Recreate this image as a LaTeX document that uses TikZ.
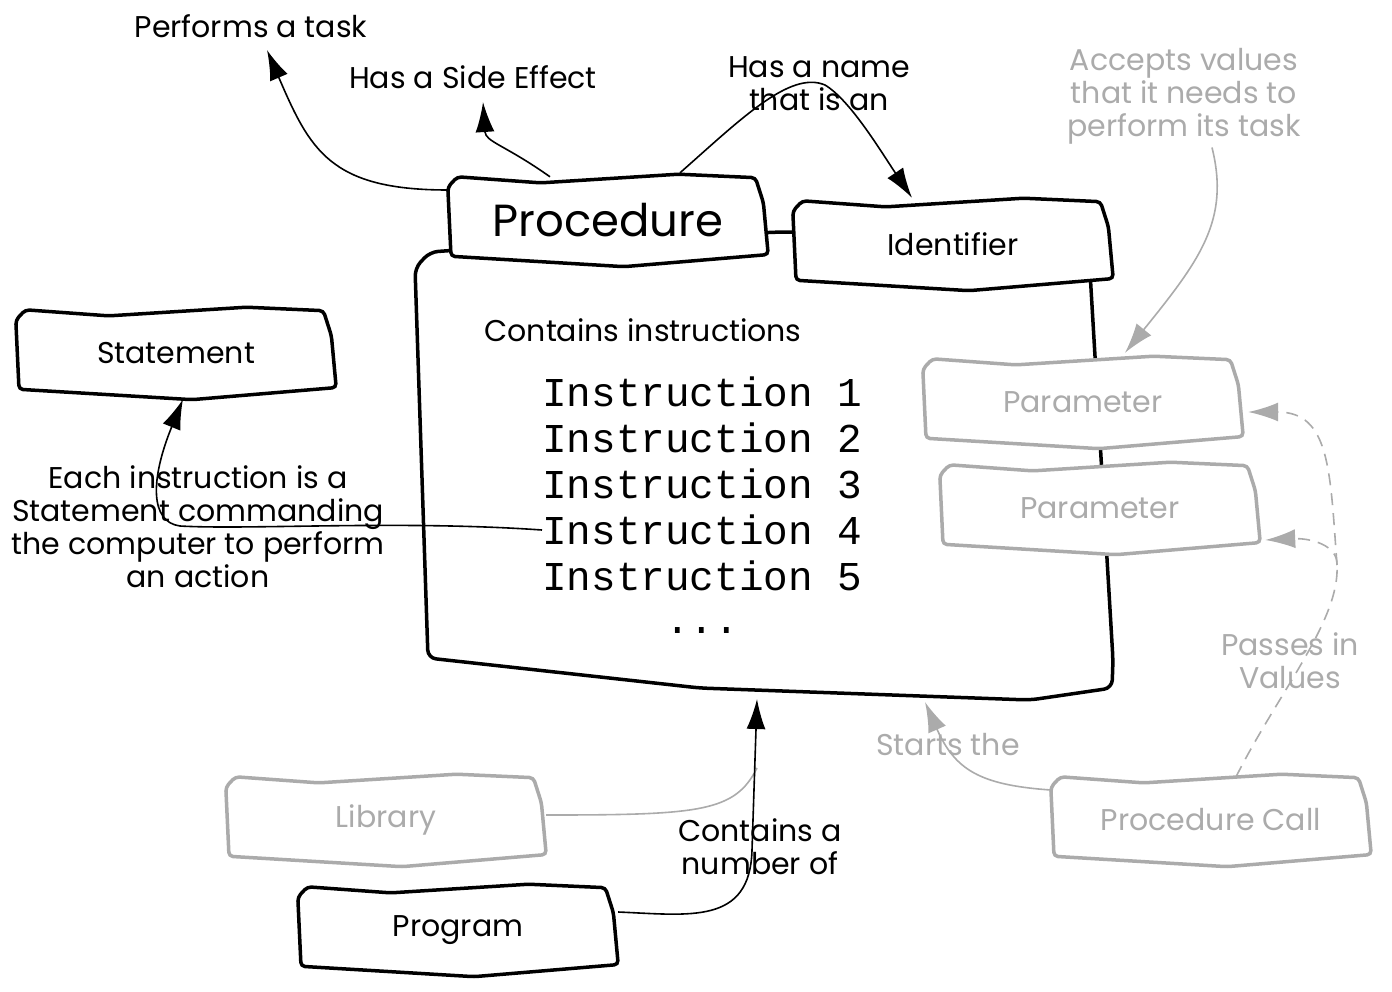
\documentclass[tikz,border=0pt]{standalone}
\usepackage{fontspec}
\setmainfont{Poppins}
\setmonofont{Liberation Mono}
\usetikzlibrary{calc}
\usetikzlibrary{arrows.meta}
\usetikzlibrary{backgrounds}
\definecolor{faded}{HTML}{ABABAB}

% wobbly outline round a node
\newcommand{\sketchbox}[2][black]{%
  \filldraw[line width=3.5pt, rounded corners=4pt, draw=#1, fill=white]
    let \p1=(#2.north west), \p2=(#2.south east),
        \n1={\x2-\x1}, \n2={\y1-\y2} in
    ({\x1},{\y1-0.12*\n2}) -- ({\x1+0.03*\n1},{\y1}) -- ({\x1+0.29*\n1},{\y1-0.07*\n2})
    -- ({\x1+0.72*\n1},{\y1+0.03*\n2}) -- ({\x1+0.96*\n1},{\y1-0.01*\n2})
    -- ({\x1+0.985*\n1},{\y1-0.3*\n2}) -- ({\x1+1.0*\n1},{\y1-0.9*\n2})
    -- ({\x1+0.55*\n1},{\y1-1.04*\n2}) -- ({\x1+0.01*\n1},{\y1-0.92*\n2}) -- cycle;}

\begin{document}
\begin{tikzpicture}[x=1pt, y=-1pt,
    lbl/.style={font=\fontsize{30}{33}\selectfont, align=center},
    box/.style={lbl, minimum width=320pt, minimum height=86pt, inner sep=0pt},
    mono/.style={font=\ttfamily\fontsize{41}{46}\selectfont, inner sep=0pt},
    conn/.style={line width=1.6pt},
    arr/.style={conn, -{Latex[length=30pt, width=19pt]}},
    fconn/.style={conn, draw=faded},
    farr/.style={arr, draw=faded}]
  \useasboundingbox (0,0) rectangle (1392,991);

  % boxes
  \node[box, font=\fontsize{45}{48}\selectfont] (proc) at (608,220) {Procedure};
  \node[box] (ident) at (953,244) {Identifier};
  \node[box] (stmt) at (176,353) {Statement};
  \node[box, text=faded] (par1) at (1083,402) {Parameter};
  \node[box, text=faded] (par2) at (1100,508) {Parameter};
  \node[box, text=faded] (lib) at (386,820) {Library};
  \node[box] (prog) at (458,930) {Program};
  \node[box, text=faded] (pcall) at (1211,820) {Procedure Call};

  % labels
  \node[lbl] (perf) at (251,26) {Performs a task};
  \node[lbl] (side) at (473,77) {Has a Side Effect};
  \node[lbl] (name) at (819,84) {Has a name\\that is an};
  \node[lbl, text=faded] (acc) at (1184,96) {Accepts values\\that it needs to\\perform its task};
  \node[lbl] (cont) at (643,330) {Contains instructions};
  \node[lbl] (each) at (198,527) {Each instruction is a\\Statement commanding\\the computer to perform\\an action};
  \node[lbl, text=faded] (starts) at (948,745) {Starts the};
  \node[lbl, text=faded] (passes) at (1290,661) {Passes in\\Values};
  \node[lbl] (num) at (760,847) {Contains a\\number of};

  \foreach \i in {1,...,5}
    \node[mono, anchor=west] (ins\i) at (542,{346+46*\i}) {Instruction \i};
  \node[mono] (dots) at (702,630) {...};

  \coordinate (bodyin) at (757,699);
  \coordinate (bodyst) at (925,702);
  \coordinate (libend) at (757,768);
  \coordinate (split) at (1337,565);

  \begin{scope}[on background layer]
    \draw[line width=3.5pt, rounded corners=8pt] (600,240) -- (780,232) -- (1088,238)
      -- (1113,660) -- (1112,688) -- (1030,700) -- (700,688) -- (428,658)
      -- (415,268) -- (430,252) -- cycle;
    \sketchbox{proc}
    \sketchbox{ident}
    \sketchbox{stmt}
    \sketchbox[faded]{par1}
    \sketchbox[faded]{par2}
    \sketchbox[faded]{lib}
    \sketchbox{prog}
    \sketchbox[faded]{pcall}
  \end{scope}

  % connectors
  \draw[arr] ($(proc.west)+(0,30pt)$) .. controls (330,190) and (310,150) .. (267,50);
  \draw[arr] ($(proc.north)+(-58pt,0)$) .. controls (505,145) and (486,142) .. (485,132) -- (483,102);
  \draw[arr] ($(proc.north)+(72pt,4pt)$) .. controls (740,120) and (790,70) .. (825,85)
    .. controls (850,100) and (880,150) .. ($(ident.north)+(-41pt,3pt)$);
  \draw[arr] (ins4.west) .. controls (400,520) and (250,530) .. (180,526)
    .. controls (150,522) and (150,480) .. ($(stmt.south)+(7pt,-3pt)$);
  \draw[fconn] ($(lib.east)+(0,5pt)$) .. controls (700,815) and (735,812) .. (libend);
  \draw[arr] ($(prog.east)+(0,18pt)$) .. controls (690,915) and (750,925) .. (752,850) -- (bodyin);
  \draw[farr] ($(acc.south)+(28pt,0)$) .. controls (1230,220) and (1200,260) .. ($(par1.north)+(42pt,6pt)$);
  \draw[farr] ($(pcall.west)+(0,30pt)$) .. controls (980,785) and (955,770) .. (bodyst);
  \draw[fconn, dash pattern=on 12pt off 8pt] ($(pcall.north)+(25pt,0)$) .. controls (1280,690) and (1340,620) .. (split);
  \draw[farr, dash pattern=on 12pt off 8pt] (split) .. controls (1338,545) and (1310,538) .. ($(par2.east)+(5pt,-32pt)$);
  \draw[farr, dash pattern=on 12pt off 8pt] (split) .. controls (1330,470) and (1330,412) .. ($(par1.east)+(5pt,-10pt)$);
\end{tikzpicture}
\end{document}
